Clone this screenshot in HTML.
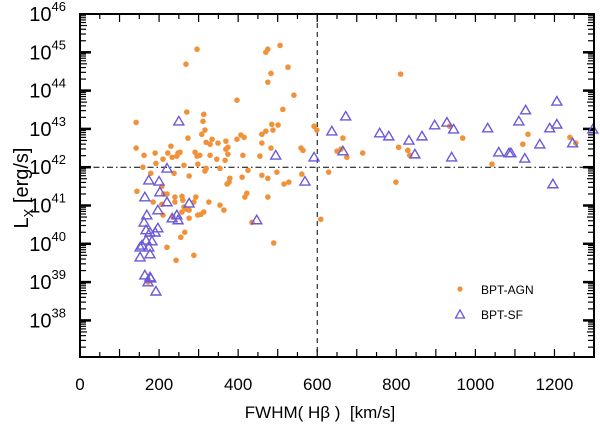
<!DOCTYPE html>
<html><head><meta charset="utf-8"><style>
body{margin:0;background:#fff;}
svg{display:block;font-family:"Liberation Sans",sans-serif;}
</style></head><body>
<svg id="chart" width="600" height="427">
<g id="ticks"></g>
<g id="marks"></g>
<g id="labels"></g>
<rect x="80" y="14" width="514" height="343" fill="none" stroke="#000" stroke-width="2"/>
<text x="320" y="418" font-size="17" text-anchor="middle">FWHM( Hβ )&#160; [km/s]</text>
<text transform="translate(28,188) rotate(-90)" font-size="20" text-anchor="middle">L<tspan font-size="13" dy="5">X</tspan><tspan dy="-5"> [erg/s]</tspan></text>
<g>
<circle cx="460" cy="289" r="2.6" fill="#f0923a"/>
<text x="481" y="294" font-size="12">BPT-AGN</text>
<path d="M460,310 L464.5,318 L455.5,318 Z" fill="none" stroke="#6a5ad8" stroke-width="1.3"/>
<text x="481" y="319" font-size="12">BPT-SF</text>
</g>
</svg>
<script>
const xTicks=[0,200,400,600,800,1000,1200];
const yTicks=[38,39,40,41,42,43,44,45,46];
const agnX=[296,268,142,470,475,506,526,483,475,541,397,513,270,313,311,316,308,273,319,334,329,349,369,397,407,415,374,369,374,230,142,162,190,222,248,253,245,233,210,192,291,296,303,329,346,367,412,455,298,263,159,483,460,470,488,501,485,460,559,564,592,599,319,354,425,276,316,498,561,460,410,475,379,179,238,377,372,516,528,629,144,207,212,220,185,207,240,258,260,240,293,288,270,258,263,326,313,298,306,276,276,210,235,354,364,422,417,475,435,265,255,220,288,243,490,609,172,811,665,650,660,675,715,806,829,834,935,968,799,1042,1120,1133,1239,1254];
const agnL=[45.08,44.69,43.17,45.00,45.08,45.18,44.61,44.45,44.22,43.88,43.75,43.51,43.44,43.38,43.20,42.97,42.86,42.76,42.65,42.73,42.60,42.63,42.68,42.73,42.84,42.78,42.52,42.47,42.34,42.55,42.50,42.31,42.37,42.37,42.37,42.39,42.29,42.26,42.21,42.10,42.39,42.29,42.31,42.31,42.21,42.18,42.31,42.29,42.08,42.05,42.00,42.50,42.86,42.94,42.97,43.10,43.12,42.63,42.50,42.44,43.07,42.97,41.97,41.97,41.92,41.77,41.90,41.87,41.82,41.79,41.74,41.71,41.71,41.84,41.84,41.61,41.56,41.56,41.61,41.87,41.37,41.50,41.30,41.30,41.09,41.03,41.22,41.24,41.14,41.09,41.22,41.09,40.90,40.83,40.96,41.09,40.83,40.75,40.77,40.67,40.88,40.75,40.70,41.01,40.88,41.32,41.22,41.22,40.56,40.30,40.17,39.91,39.70,39.57,40.02,40.64,39.00,44.43,42.76,42.42,42.47,42.26,42.37,42.52,42.44,42.31,43.07,42.76,41.61,42.08,42.60,42.86,42.78,42.63];
const sfX=[250,220,495,592,174,200,202,220,164,197,169,162,197,167,177,190,167,182,152,157,174,152,177,164,177,172,179,192,233,248,245,276,447,569,637,672,665,758,781,832,865,847,897,928,945,940,1031,1059,1085,1090,1110,1127,1125,1163,1188,1206,1206,1196,1246,1297];
const sfL=[43.20,41.97,42.31,42.26,41.66,41.63,41.35,41.09,41.22,40.88,40.75,40.56,40.41,40.36,40.30,40.30,40.09,40.07,39.91,39.96,39.91,39.65,39.73,39.18,39.13,39.00,39.10,38.76,40.67,40.62,40.75,41.06,40.62,41.63,42.94,43.33,42.42,42.89,42.81,42.70,42.81,42.34,43.10,43.17,42.99,42.26,43.02,42.39,42.37,42.37,43.20,43.49,42.23,42.60,43.02,43.72,43.12,41.56,42.63,42.99];
const X0=80,X1=594,Y0=14,Y1=357,XMAX=1300,LMAX=46,LMIN=46-(Y1-Y0)/38.3;
function sx(v){return X0+v*(X1-X0)/XMAX;}
function sy(l){return Y0+(LMAX-l)*(Y1-Y0)/(LMAX-LMIN);}
const NS="http://www.w3.org/2000/svg";
function mk(tag,attrs,parent){const e=document.createElementNS(NS,tag);for(const k in attrs)e.setAttribute(k,attrs[k]);parent.appendChild(e);return e;}
const tg=document.getElementById('ticks'),mg=document.getElementById('marks'),lg=document.getElementById('labels');
for(let v=50;v<XMAX;v+=50){const L=v%100===0?8:5;const x=sx(v);
 let t=mk('line',{x1:x,x2:x,y1:Y1,y2:Y1-L,stroke:'#000','stroke-width':1.2},tg);
 
 
 t=mk('line',{x1:x,x2:x,y1:Y0,y2:Y0+L,stroke:'#000','stroke-width':1.2},tg);
 
 }
xTicks.forEach(v=>{const t=mk('text',{x:sx(v),y:390,'font-size':17,'text-anchor':'middle'},lg);t.textContent=v;
 
 });
for(let d=37;d<46;d++){for(let m=1;m<10;m++){const l=d+Math.log10(m);if(l<LMIN||l>LMAX)continue;const y=sy(l);const L=m===1?11:(m===5?7:6);const w=m===1?2.5:1.2;
 let t=mk('line',{x1:X0,x2:X0+L,y1:y,y2:y,stroke:'#000','stroke-width':w},tg);
 
 
 t=mk('line',{x1:X1,x2:X1-L,y1:y,y2:y,stroke:'#000','stroke-width':w},tg);
 
 }}
yTicks.forEach(v=>{const t=mk('text',{x:66,y:sy(v)+7,'font-size':20,'text-anchor':'end'},lg);
 
 
 t.innerHTML='10<tspan font-size="13" dy="-10">'+v+'</tspan>';});
let r=mk('line',{x1:sx(600),x2:sx(600),y1:Y0,y2:Y1,stroke:'#000','stroke-width':1,'stroke-dasharray':'5,4'},tg);


r=mk('line',{x1:X0,x2:X1,y1:sy(42),y2:sy(42),stroke:'#000','stroke-width':1,'stroke-dasharray':'6,3,1.5,3'},tg);


agnX.forEach((v,i)=>{const c=mk('circle',{cx:sx(v),cy:sy(agnL[i]),r:2.8,fill:'#f0923a'},mg);
 
 });
sfX.forEach((v,i)=>{const x=sx(v),y=sy(sfL[i]);
 const p=mk('path',{d:`M${x},${y-4.8} L${x+5},${y+3.7} L${x-5},${y+3.7} Z`,fill:'none',stroke:'#6a5ad8','stroke-width':1.4},mg);
 
 });
</script>
</body></html>
